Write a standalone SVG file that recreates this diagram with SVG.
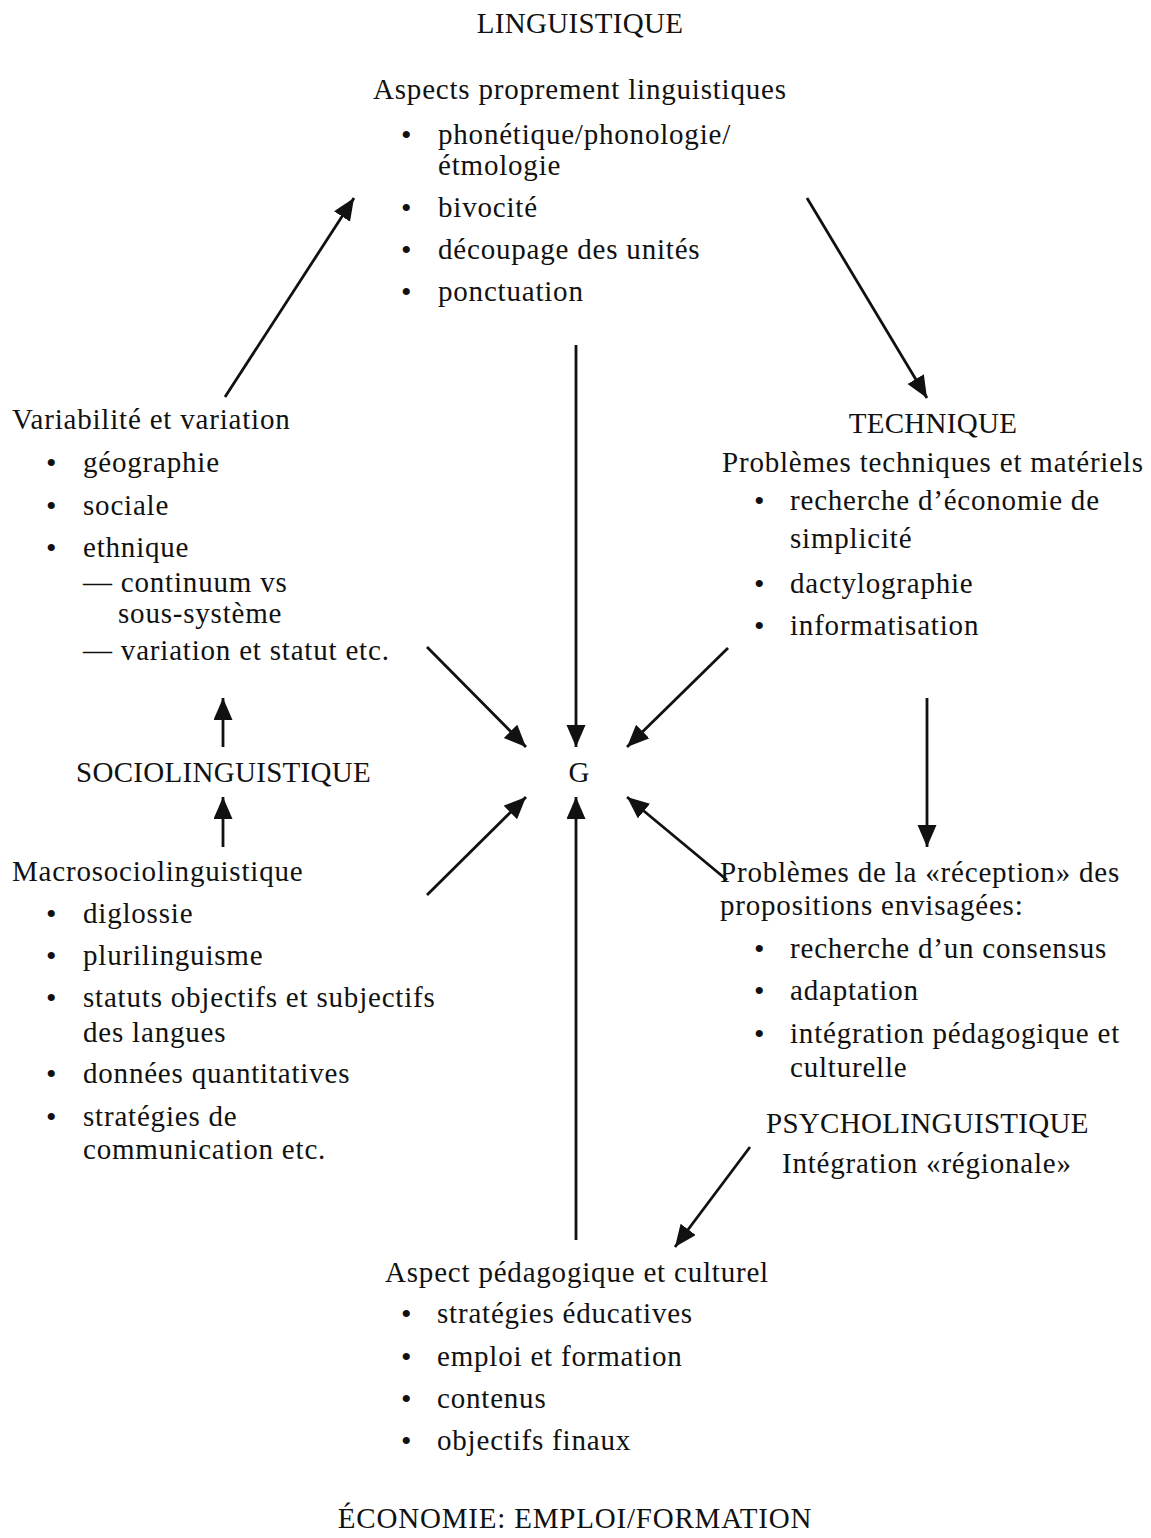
<svg xmlns="http://www.w3.org/2000/svg" width="1151" height="1538" viewBox="0 0 1151 1538">
  <style>
    text { font-family: "Liberation Serif", "Times New Roman", serif; font-size: 29px; fill: #111; letter-spacing: 0.8px; }
    .c { text-anchor: middle; }
    .h { letter-spacing: 0.3px; }
    .b { font-size: 30px; letter-spacing: 0; }
    .arrow { stroke: #111; stroke-width: 2.8; fill: none; marker-end: url(#head); }
  </style>
  <defs>
    <marker id="head" markerUnits="userSpaceOnUse" markerWidth="24" markerHeight="20" refX="22" refY="9.5" orient="auto">
      <path d="M0,0 L22,9.5 L0,19 Z" fill="#111"/>
    </marker>
  </defs>
  <rect width="1151" height="1538" fill="#fff"/>

  <!-- LINGUISTIQUE -->
  <g id="linguistique">
    <text class="c h" x="580" y="33">LINGUISTIQUE</text>
    <text x="373" y="99">Aspects proprement linguistiques</text>
    <text class="b" x="401" y="145">•</text><text x="438" y="144">phonétique/phonologie/</text>
    <text x="438" y="175">étmologie</text>
    <text class="b" x="401" y="218">•</text><text x="438" y="217">bivocité</text>
    <text class="b" x="401" y="260">•</text><text x="438" y="259">découpage des unités</text>
    <text class="b" x="401" y="302">•</text><text x="438" y="301">ponctuation</text>
  </g>

  <!-- Variabilité et variation -->
  <g id="variation">
    <text x="12" y="429">Variabilité et variation</text>
    <text class="b" x="46" y="473">•</text><text x="83" y="472">géographie</text>
    <text class="b" x="46" y="516">•</text><text x="83" y="515">sociale</text>
    <text class="b" x="46" y="558">•</text><text x="83" y="557">ethnique</text>
    <text x="83" y="592">— continuum vs</text>
    <text x="118" y="623">sous-système</text>
    <text x="83" y="660">— variation et statut etc.</text>
  </g>

  <!-- TECHNIQUE -->
  <g id="technique">
    <text class="c h" x="933" y="433">TECHNIQUE</text>
    <text x="722" y="472">Problèmes techniques et matériels</text>
    <text class="b" x="754" y="511">•</text><text x="790" y="510">recherche d’économie de</text>
    <text x="790" y="548">simplicité</text>
    <text class="b" x="754" y="594">•</text><text x="790" y="593">dactylographie</text>
    <text class="b" x="754" y="636">•</text><text x="790" y="635">informatisation</text>
  </g>

  <!-- Centre -->
  <g id="g-centre">
    <text class="c h" x="579" y="782">G</text>
  </g>

  <!-- SOCIOLINGUISTIQUE -->
  <g id="sociolinguistique">
    <text class="h" x="76" y="782">SOCIOLINGUISTIQUE</text>
  </g>

  <!-- Macrosociolinguistique -->
  <g id="macro">
    <text x="12" y="881">Macrosociolinguistique</text>
    <text class="b" x="46" y="924">•</text><text x="83" y="923">diglossie</text>
    <text class="b" x="46" y="966">•</text><text x="83" y="965">plurilinguisme</text>
    <text class="b" x="46" y="1008">•</text><text x="83" y="1007">statuts objectifs et subjectifs</text>
    <text x="83" y="1042">des langues</text>
    <text class="b" x="46" y="1084">•</text><text x="83" y="1083">données quantitatives</text>
    <text class="b" x="46" y="1127">•</text><text x="83" y="1126">stratégies de</text>
    <text x="83" y="1159">communication etc.</text>
  </g>

  <!-- Réception -->
  <g id="reception">
    <text x="720" y="882">Problèmes de la «réception» des</text>
    <text x="720" y="915">propositions envisagées:</text>
    <text class="b" x="754" y="959">•</text><text x="790" y="958">recherche d’un consensus</text>
    <text class="b" x="754" y="1001">•</text><text x="790" y="1000">adaptation</text>
    <text class="b" x="754" y="1044">•</text><text x="790" y="1043">intégration pédagogique et</text>
    <text x="790" y="1077">culturelle</text>
  </g>

  <!-- PSYCHOLINGUISTIQUE -->
  <g id="psycholinguistique">
    <text class="h" x="766" y="1133">PSYCHOLINGUISTIQUE</text>
    <text x="782" y="1173">Intégration «régionale»</text>
  </g>

  <!-- Aspect pédagogique et culturel -->
  <g id="pedagogique">
    <text x="385" y="1282">Aspect pédagogique et culturel</text>
    <text class="b" x="401" y="1324">•</text><text x="437" y="1323">stratégies éducatives</text>
    <text class="b" x="401" y="1367">•</text><text x="437" y="1366">emploi et formation</text>
    <text class="b" x="401" y="1409">•</text><text x="437" y="1408">contenus</text>
    <text class="b" x="401" y="1451">•</text><text x="437" y="1450">objectifs finaux</text>
  </g>

  <!-- ÉCONOMIE -->
  <g id="economie">
    <text class="c" x="575" y="1528">ÉCONOMIE: EMPLOI/FORMATION</text>
  </g>

  <!-- Connectors -->
  <g id="connectors">
    <line class="arrow" x1="225" y1="397" x2="354" y2="198"/>
    <line class="arrow" x1="807" y1="198" x2="927" y2="398"/>
    <line class="arrow" x1="576" y1="345" x2="576" y2="747"/>
    <line class="arrow" x1="427" y1="647" x2="526" y2="747"/>
    <line class="arrow" x1="728" y1="648" x2="627" y2="747"/>
    <line class="arrow" x1="927" y1="698" x2="927" y2="847"/>
    <line class="arrow" x1="223" y1="747" x2="223" y2="698"/>
    <line class="arrow" x1="223" y1="847" x2="223" y2="797"/>
    <line class="arrow" x1="427" y1="895" x2="526" y2="797"/>
    <line class="arrow" x1="576" y1="1240" x2="576" y2="797"/>
    <line class="arrow" x1="727" y1="880" x2="627" y2="797"/>
    <line class="arrow" x1="750" y1="1147" x2="675" y2="1247"/>
  </g>
</svg>
